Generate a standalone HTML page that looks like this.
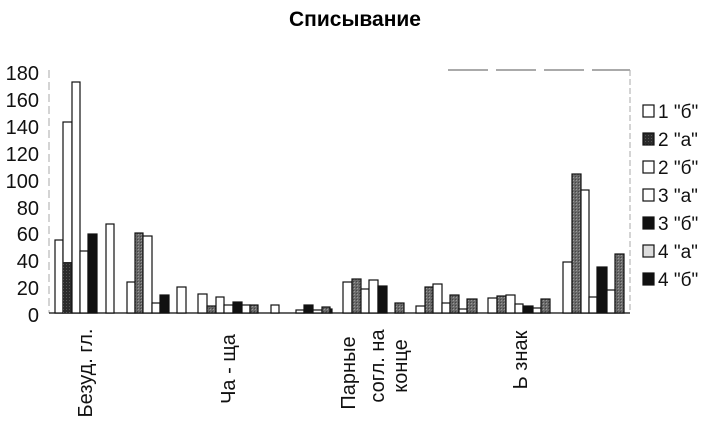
<!DOCTYPE html>
<html><head><meta charset="utf-8"><style>
html,body{margin:0;padding:0;background:#fff;}
svg{display:block;font-family:"Liberation Sans",Arial,sans-serif;}
</style></head><body>
<svg width="706" height="424" viewBox="0 0 706 424" xmlns="http://www.w3.org/2000/svg">
<defs>
<pattern id="gr" width="3" height="3" patternUnits="userSpaceOnUse"><rect width="3" height="3" fill="#6a6a6a"/><rect width="1" height="1" fill="#999"/><rect x="2" y="2" width="1" height="1" fill="#444"/></pattern>
<pattern id="dk" width="3" height="3" patternUnits="userSpaceOnUse"><rect width="3" height="3" fill="#2a2a2a"/><rect width="1" height="1" fill="#555"/></pattern>
</defs>
<text x="355" y="26" text-anchor="middle" font-size="21" font-weight="bold">Списывание</text>
<g font-size="20" text-anchor="end" fill="#111">
<text x="39" y="80">180</text><text x="39" y="107">160</text><text x="39" y="134">140</text><text x="39" y="161">120</text><text x="39" y="188">100</text><text x="39" y="215">80</text><text x="39" y="241">60</text><text x="39" y="268">40</text><text x="39" y="295">20</text><text x="39" y="322">0</text>
</g>
<line x1="49" y1="70" x2="49" y2="313" stroke="#aaa" stroke-dasharray="8,4"/>
<line x1="448" y1="70" x2="630" y2="70" stroke="#555" stroke-dasharray="40,8"/>
<line x1="630" y1="70" x2="630" y2="313" stroke="#aaa" stroke-dasharray="6,3"/>
<line x1="49" y1="313" x2="630" y2="313" stroke="#333" stroke-width="1.5"/>
<g stroke="#111" stroke-width="1.2">
<rect x="55" y="240" width="8" height="73" fill="#fff"/>
<rect x="63" y="122" width="9" height="191" fill="#fff"/>
<rect x="63" y="262" width="9" height="51" fill="url(#dk)" stroke="none"/>
<rect x="72" y="82" width="8" height="231" fill="#fff"/>
<rect x="80" y="251" width="8" height="62" fill="#fff"/>
<rect x="88" y="234" width="9" height="79" fill="#111"/>
<rect x="106" y="224" width="8" height="89" fill="#fff"/>
<rect x="127" y="282" width="8" height="31" fill="#fff"/>
<rect x="135" y="233" width="8" height="80" fill="url(#gr)"/>
<rect x="143" y="236" width="9" height="77" fill="#fff"/>
<rect x="152" y="303" width="8" height="10" fill="#fff"/>
<rect x="160" y="295" width="9" height="18" fill="#111"/>
<rect x="177" y="287" width="9" height="26" fill="#fff"/>
<rect x="198" y="294" width="9" height="19" fill="#fff"/>
<rect x="207" y="306" width="9" height="7" fill="url(#gr)"/>
<rect x="216" y="297" width="8" height="16" fill="#fff"/>
<rect x="224" y="305" width="9" height="8" fill="#fff"/>
<rect x="233" y="302" width="9" height="11" fill="#111"/>
<rect x="242" y="305" width="8" height="8" fill="#fff"/>
<rect x="250" y="305" width="8" height="8" fill="url(#gr)"/>
<rect x="271" y="305" width="8" height="8" fill="#fff"/>
<rect x="296" y="310" width="8" height="3" fill="#fff"/>
<rect x="304" y="305" width="9" height="8" fill="#111"/>
<rect x="313" y="310" width="9" height="3" fill="#fff"/>
<rect x="322" y="307" width="8" height="6" fill="url(#gr)"/>
<rect x="330" y="309" width="2" height="4" fill="#111"/>
<rect x="343" y="282" width="9" height="31" fill="#fff"/>
<rect x="352" y="279" width="9" height="34" fill="url(#gr)"/>
<rect x="361" y="289" width="8" height="24" fill="#fff"/>
<rect x="369" y="280" width="9" height="33" fill="#fff"/>
<rect x="378" y="286" width="9" height="27" fill="#111"/>
<rect x="395" y="303" width="9" height="10" fill="url(#gr)"/>
<rect x="416" y="306" width="9" height="7" fill="#fff"/>
<rect x="425" y="287" width="8" height="26" fill="url(#gr)"/>
<rect x="433" y="284" width="9" height="29" fill="#fff"/>
<rect x="442" y="303" width="8" height="10" fill="#fff"/>
<rect x="450" y="295" width="9" height="18" fill="url(#gr)"/>
<rect x="459" y="309" width="8" height="4" fill="#fff"/>
<rect x="467" y="299" width="10" height="14" fill="url(#gr)"/>
<rect x="488" y="298" width="9" height="15" fill="#fff"/>
<rect x="497" y="296" width="9" height="17" fill="url(#gr)"/>
<rect x="506" y="295" width="9" height="18" fill="#fff"/>
<rect x="515" y="304" width="8" height="9" fill="#fff"/>
<rect x="523" y="306" width="10" height="7" fill="#111"/>
<rect x="533" y="308" width="8" height="5" fill="#fff"/>
<rect x="541" y="299" width="9" height="14" fill="url(#gr)"/>
<rect x="563" y="262" width="9" height="51" fill="#fff"/>
<rect x="572" y="174" width="9" height="139" fill="url(#gr)"/>
<rect x="581" y="190" width="8" height="123" fill="#fff"/>
<rect x="589" y="297" width="8" height="16" fill="#fff"/>
<rect x="597" y="267" width="10" height="46" fill="#111"/>
<rect x="607" y="290" width="8" height="23" fill="#fff"/>
<rect x="615" y="254" width="9" height="59" fill="url(#gr)"/>
</g>
<g stroke="#111" stroke-width="1.2">
<rect x="643" y="105" width="11" height="12" fill="#fff"/>
<rect x="643" y="133" width="11" height="12" fill="url(#dk)"/>
<rect x="643" y="161" width="11" height="12" fill="#fff"/>
<rect x="643" y="189" width="11" height="12" fill="#fff"/>
<rect x="643" y="217" width="11" height="12" fill="#111"/>
<rect x="643" y="245" width="11" height="12" fill="#ddd"/>
<rect x="643" y="273" width="11" height="12" fill="#111"/>
</g>
<g font-size="19" fill="#111">
<text x="658" y="118">1 "б"</text>
<text x="658" y="146">2 "а"</text>
<text x="658" y="174">2 "б"</text>
<text x="658" y="202">3 "а"</text>
<text x="658" y="230">3 "б"</text>
<text x="658" y="258">4 "а"</text>
<text x="658" y="286">4 "б"</text>
</g>
<g font-size="20" fill="#111" text-anchor="middle">
<text transform="translate(92,373) rotate(-90)">Безуд. гл.</text>
<text transform="translate(235,369) rotate(-90)">Ча - ща</text>
<text transform="translate(355,373) rotate(-90)">Парные</text>
<text transform="translate(384,366) rotate(-90)">согл. на</text>
<text transform="translate(407,366) rotate(-90)">конце</text>
<text transform="translate(527,360) rotate(-90)">Ь знак</text>
</g>
</svg>
</body></html>
